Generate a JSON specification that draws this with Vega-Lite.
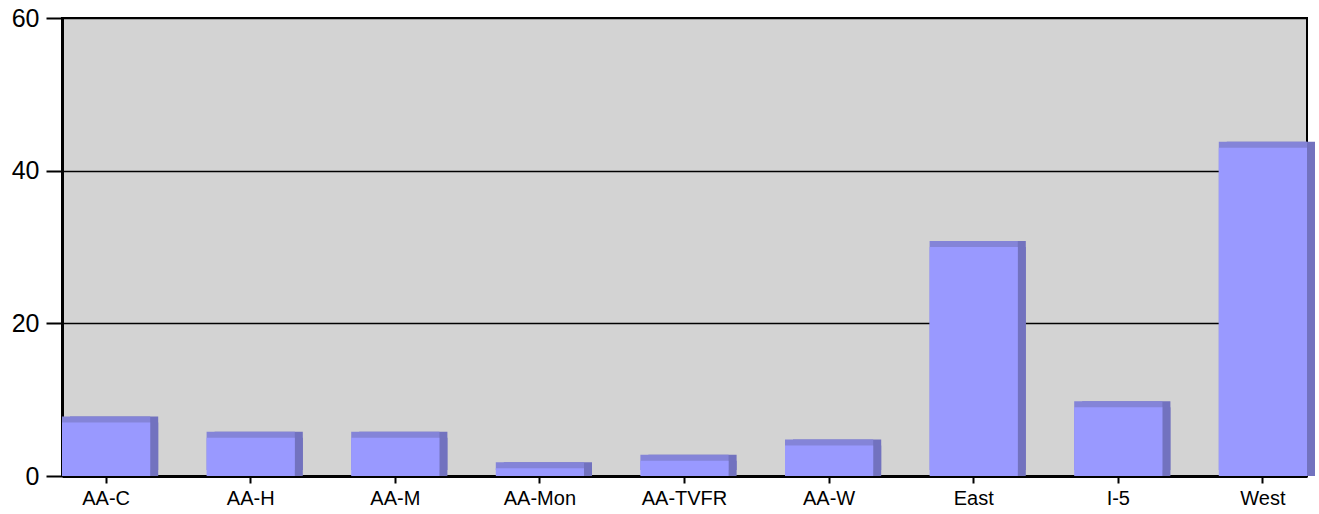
{
  "$schema": "https://vega.github.io/schema/vega-lite/v6.json",
  "width": 1245,
  "height": 458,
  "autosize": {"type": "none"},
  "padding": {"left": 62, "top": 18, "right": 12, "bottom": 38},
  "background": "white",
  "config": {
    "view": {"fill": "#d3d3d3", "stroke": "#000", "strokeWidth": 2},
    "font": "Liberation Sans"
  },
  "data": {
    "values": [
      {"region": "AA-C", "count": 7},
      {"region": "AA-H", "count": 5},
      {"region": "AA-M", "count": 5},
      {"region": "AA-Mon", "count": 1},
      {"region": "AA-TVFR", "count": 2},
      {"region": "AA-W", "count": 4},
      {"region": "East", "count": 30},
      {"region": "I-5", "count": 9},
      {"region": "West", "count": 43}
    ]
  },
  "encoding": {
    "x": {
      "field": "region",
      "type": "nominal",
      "sort": null,
      "scale": {"paddingInner": 0.39, "paddingOuter": 0},
      "axis": {
        "title": null,
        "labelAngle": 0,
        "labelFontSize": 20,
        "labelColor": "#000",
        "tickSize": 7,
        "tickWidth": 2,
        "tickColor": "#000",
        "domainColor": "#000",
        "domainWidth": 3,
        "labelPadding": 5,
        "grid": false
      }
    },
    "y": {
      "field": "count",
      "type": "quantitative",
      "scale": {"domain": [0, 60], "nice": false},
      "axis": {
        "title": null,
        "values": [0, 20, 40, 60],
        "labelFontSize": 25,
        "labelColor": "#000",
        "tickSize": 16,
        "tickWidth": 2,
        "tickColor": "#000",
        "domainColor": "#000",
        "domainWidth": 3,
        "labelPadding": 7,
        "grid": true,
        "gridColor": "#000",
        "gridWidth": 1.5,
        "gridOpacity": 1
      }
    }
  },
  "layer": [
    {"mark": {"type": "bar", "color": "#7272bf", "xOffset": 8, "opacity": 1}},
    {"mark": {"type": "bar", "color": "#7272bf", "xOffset": 8, "yOffset": -6, "opacity": 1}},
    {"mark": {"type": "bar", "color": "#8484d8", "yOffset": -6, "opacity": 1}},
    {"mark": {"type": "bar", "color": "#9999ff", "opacity": 1}}
  ]
}
